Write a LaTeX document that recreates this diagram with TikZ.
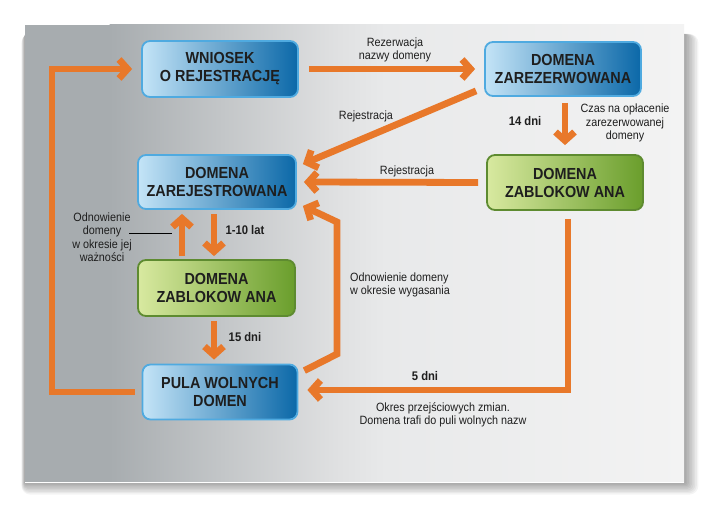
\documentclass[tikz,border=0pt]{standalone}
\usepackage{fontspec}
\setmainfont[FakeStretch=0.9]{Liberation Sans}
\usetikzlibrary{arrows.meta,calc}
\definecolor{orng}{HTML}{E8782A}
\definecolor{bLight}{HTML}{C4E4F7}
\definecolor{bMid}{HTML}{52A9DE}
\definecolor{bDark}{HTML}{0B68A8}
\definecolor{bBorder}{HTML}{4FAAE0}
\definecolor{gLight}{HTML}{D8E9A0}
\definecolor{gMid}{HTML}{A6CB5E}
\definecolor{gDark}{HTML}{6A9E2C}
\definecolor{gBorder}{HTML}{5E8B30}
\definecolor{pGray}{HTML}{A7ACAF}
\definecolor{pMid}{HTML}{DFE0E1}
\definecolor{pLight}{HTML}{E8E9EA}
\definecolor{pRight}{HTML}{F3F3F3}
\definecolor{txt}{HTML}{1E1E1E}
\tikzset{
  boxbase/.style={rounded corners=8pt, line width=1.8pt, inner sep=0pt, align=center,
    text=txt, font=\fontsize{16}{18}\selectfont\bfseries},
  bluebox/.style={boxbase, draw=bBorder, left color=bLight, middle color=bMid, right color=bDark},
  greenbox/.style={boxbase, draw=gBorder, left color=gLight, middle color=gMid, right color=gDark},
  flow/.style={draw=orng, line width=6.8pt, -{Straight Barb[sharp,length=8.5pt,width=19pt]}},
  lbl/.style={align=center, text=txt, inner sep=0pt, font=\fontsize{12}{13.5}\selectfont},
  blbl/.style={lbl, font=\fontsize{12.5}{14}\selectfont\bfseries},
}
\begin{document}
\begin{tikzpicture}[x=1pt,y=-1pt]
\useasboundingbox (0,0) rectangle (709,510);
\fill[white] (0,0) rectangle (709,510);
% panel shadow
\foreach \i in {1,...,9}{
  \fill[black,opacity=0.045,rounded corners=\i pt] (25-\i*0.4,34) rectangle (684+\i*1.6,482+\i*1.4);
}
% panel
\fill[pGray] (25,25) rectangle (110,482);
\shade[left color=pGray, right color=pMid] (109.5,25) rectangle (335,482);
\shade[left color=pMid, right color=pLight] (334.5,25) rectangle (385,482);
\shade[left color=pLight, right color=pRight] (384.5,25) rectangle (684,482);
\draw[white,line width=1pt] (25,482.5) -- (684,482.5);

% boxes
\node[bluebox, minimum width=156pt, minimum height=56pt] (wn) at (220,69) {WNIOSEK\\O REJESTRACJĘ};
\node[bluebox, minimum width=156pt, minimum height=54pt] (zr) at (563,69) {DOMENA\\ZAREZERWOWANA};
\node[bluebox, minimum width=158pt, minimum height=54pt] (zj) at (217,182) {DOMENA\\ZAREJESTROWANA};
\node[greenbox, minimum width=156pt, minimum height=55pt] (zbr) at (565,182.5) {DOMENA\\ZABLOKOW ANA};
\node[greenbox, minimum width=157pt, minimum height=56pt] (zbm) at (216.5,288) {DOMENA\\ZABLOKOW ANA};
\node[bluebox, minimum width=155pt, minimum height=55pt] (pula) at (220,392) {PULA WOLNYCH\\DOMEN};

% helper coordinates
\coordinate (b1) at (337,354);
\coordinate (b2) at (337,222);
\coordinate (lb) at (52,392);
\coordinate (lt) at (52,69);
\coordinate (ld1) at (129,233);
\coordinate (ld2) at (172,233);

% connectors
\draw[flow] ($(wn.east)+(10,0)$) -- ($(zr.west)+(-9,0)$);
\draw[flow] ($(zr.south west)+(-8,-6)$) -- ($(zj.north east)+(6,10)$);
\draw[flow] ($(zr.south)+(2,6)$) -- ($(zbr.north)+(0,-9)$);
\draw[flow] ($(zbr.west)+(-8,0)$) -- ($(zj.east)+(7,0)$);
\draw[flow] ($(zj.south)+(-3,4)$) -- ($(zbm.north)+(-2.5,-3)$);
\draw[flow] ($(zbm.north)+(-34.5,-3)$) -- ($(zj.south)+(-35,4)$);
\draw[flow] ($(zbm.south)+(-2.5,4)$) -- ($(pula.north)+(-6,-4)$);
\draw[flow] ($(pula.north east)+(6,7)$) -- (b1) -- (b2) -- ($(zj.south east)+(6,-4)$);
\draw[flow] ($(zbr.south)+(3,8)$) |- ($(pula.east)+(9,-2)$);
\draw[flow] ($(pula.west)+(-7,0)$) -- (lb) -- (lt) -- ($(wn.west)+(-9,0)$);
\draw[black,line width=0.7pt] (ld1) -- (ld2);

% labels
\node[lbl] (l1) at (395,50) {Rezerwacja\\nazwy domeny};
\node[lbl] (l2) at (366,116) {Rejestracja};
\node[blbl] (l3) at (525,121) {14 dni};
\node[lbl] (l4) at (625,123) {Czas na opłacenie\\zarezerwowanej\\domeny};
\node[lbl] (l5) at (407,171) {Rejestracja};
\node[blbl] (l6) at (245,230) {1-10 lat};
\node[lbl] (l7) at (102,237) {Odnowienie\\domeny\\w okresie jej\\ważności};
\node[blbl] (l8) at (245,337) {15 dni};
\node[lbl, align=left, anchor=west] (l9) at (350,285) {Odnowienie domeny\\w okresie wygasania};
\node[blbl] (l10) at (425,376) {5 dni};
\node[lbl] (l11) at (443,415) {Okres przejściowych zmian.\\Domena trafi do puli wolnych nazw};
\end{tikzpicture}
\end{document}
